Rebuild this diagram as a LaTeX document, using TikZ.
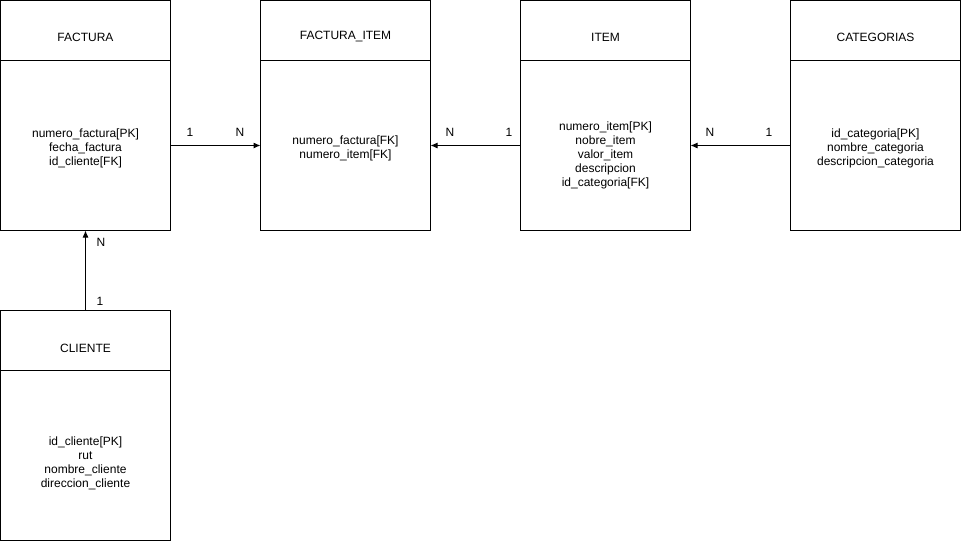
\documentclass[tikz,border=0pt]{standalone}
\usepackage{fontspec}
\setmainfont{Liberation Sans}
\usetikzlibrary{arrows.meta}
\begin{document}
\begin{tikzpicture}[x=1pt,y=-1pt,
  every node/.style={font=\fontsize{12}{14}\selectfont, inner sep=0pt, outer sep=0pt},
  head/.style={draw, line width=1pt, minimum width=170pt, minimum height=60pt, anchor=north west},
  body/.style={draw, line width=1pt, minimum width=170pt, minimum height=170pt, anchor=north west},
  txt/.style={align=center},
  conn/.style={line width=1pt, -{Latex[length=7pt,width=6pt]}}]
\useasboundingbox (0,0) rectangle (961,541);
% boxes
\node[head] (fh) at (0.5,0.5) {};
\node[body] (fb) at (0.5,60.5) {};
\node[head] (fih) at (260.5,0.5) {};
\node[body] (fib) at (260.5,60.5) {};
\node[head] (ih) at (520.5,0.5) {};
\node[body] (ib) at (520.5,60.5) {};
\node[head] (ch) at (790.5,0.5) {};
\node[body] (cb) at (790.5,60.5) {};
\node[head] (clh) at (0.5,310.5) {};
\node[body] (clb) at (0.5,370.5) {};
% titles
\node (tf) at (85.5,37) {FACTURA};
\node (tfi) at (345.5,37) {FACTURA\_ITEM};
\node (ti) at (605.5,37) {ITEM};
\node (tc) at (875.5,37) {CATEGORIAS};
\node (tcl) at (85.5,348) {CLIENTE};
% bodies
\node[txt] (bf) at (85.5,148.5) {numero\_factura[PK]\\fecha\_factura\\id\_cliente[FK]};
\node[txt] (bfi) at (345.5,148) {numero\_factura[FK]\\numero\_item[FK]};
\node[txt] (bi) at (605.5,155) {numero\_item[PK]\\nobre\_item\\valor\_item\\descripcion\\id\_categoria[FK]};
\node[txt] (bc) at (875.5,148.5) {id\_categoria[PK]\\nombre\_categoria\\descripcion\_categoria};
\node[txt] (bcl) at (85.5,463) {id\_cliente[PK]\\rut\\nombre\_cliente\\direccion\_cliente};
% connectors
\draw[conn] (fb.east) -- (fib.west);
\draw[conn] (ib.west) -- (fib.east);
\draw[conn] (cb.west) -- (ib.east);
\draw[conn] (clh.north) -- (fb.south);
% cardinalities
\node (c1) at (190,132) {1};
\node (c2) at (240,132) {N};
\node (c3) at (450,132) {N};
\node (c4) at (509,132) {1};
\node (c5) at (710,132) {N};
\node (c6) at (769,132) {1};
\node (c7) at (101,242) {N};
\node (c8) at (100,301) {1};
\end{tikzpicture}
\end{document}
